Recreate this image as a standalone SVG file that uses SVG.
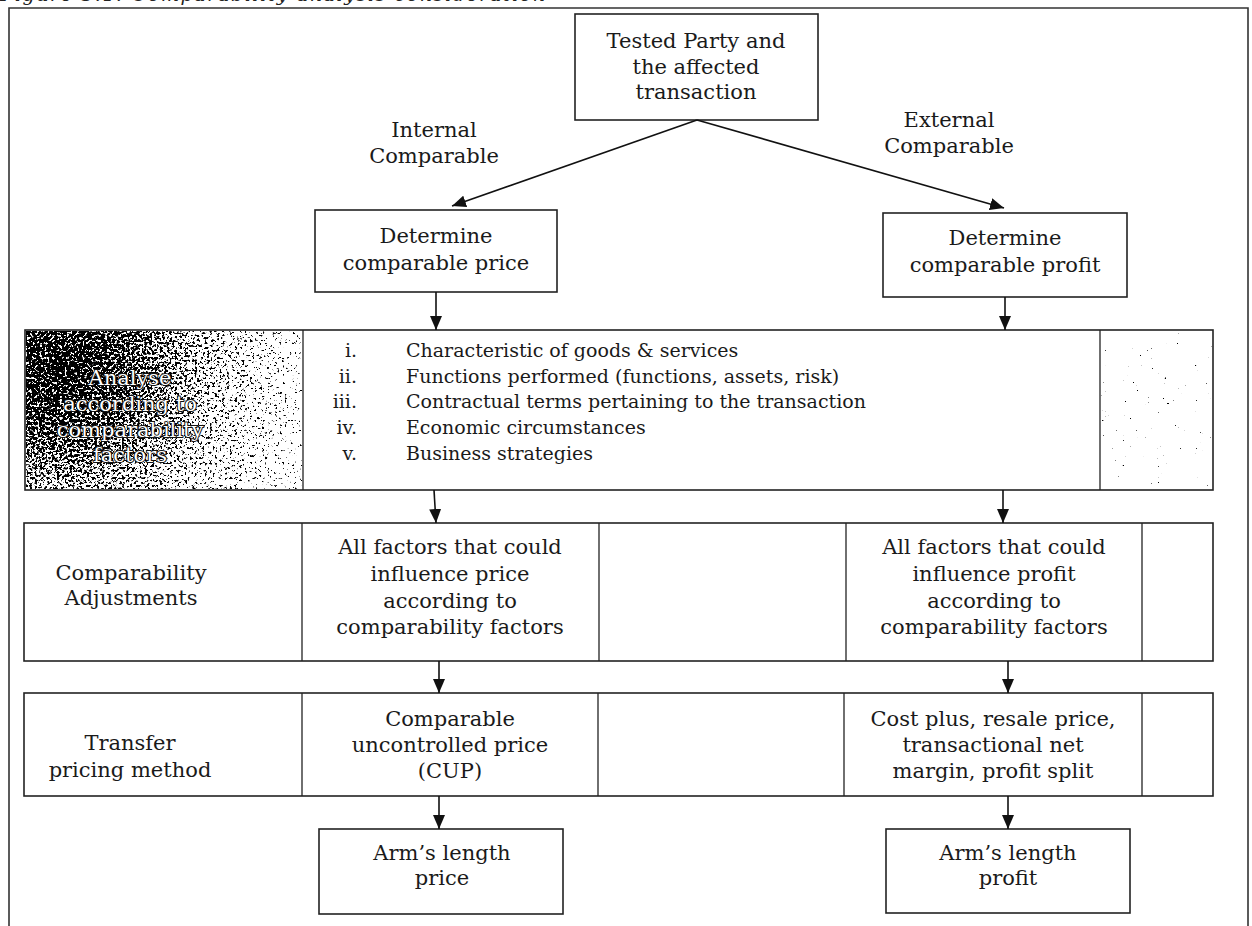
<svg xmlns="http://www.w3.org/2000/svg" width="1252" height="926" viewBox="0 0 1252 926">
  <style>
    .frame { fill: none; stroke: #333; stroke-width: 1.6; }
    .box { fill: #fff; stroke: #222; stroke-width: 1.6; }
    .div { stroke: #222; stroke-width: 1.3; }
    .t { font-family: "DejaVu Serif", "Liberation Serif", serif; font-size: 21px; fill: #1a1a1a; text-anchor: middle; }
    .lst { font-family: "DejaVu Serif", "Liberation Serif", serif; font-size: 19px; fill: #1a1a1a; }
    .num { text-anchor: end; }
    .outline { fill: #fff; stroke: #111; stroke-width: 2; paint-order: stroke; stroke-linejoin: round; }
    .cap { font-family: "DejaVu Serif", "Liberation Serif", serif; font-style: italic; font-size: 19px; fill: #222; }
    .conn line { stroke: #111; stroke-width: 1.6; marker-end: url(#ah); }
  </style>
  <defs>
    <marker id="ah" viewBox="0 0 14 12" refX="14" refY="6" markerWidth="14" markerHeight="12" markerUnits="userSpaceOnUse" orient="auto">
      <path d="M0,0 L14,6 L0,12 z" fill="#111"/>
    </marker>
    <!-- density map for the speckled halftone fill -->
    <radialGradient id="dense" gradientUnits="userSpaceOnUse" cx="60" cy="365" r="260">
      <stop offset="0" stop-color="#000" stop-opacity="0.68"/>
      <stop offset="0.25" stop-color="#000" stop-opacity="0.6"/>
      <stop offset="0.55" stop-color="#000" stop-opacity="0.44"/>
      <stop offset="1" stop-color="#000" stop-opacity="0.3"/>
    </radialGradient>
    <filter id="grain" filterUnits="userSpaceOnUse" x="0" y="300" width="1252" height="220" color-interpolation-filters="sRGB">
      <feTurbulence type="fractalNoise" baseFrequency="0.4" numOctaves="4" seed="11" result="noise"/>
      <feColorMatrix in="noise" type="matrix" values="0 0 0 0 0  0 0 0 0 0  0 0 0 0 0  1 0 0 0 0" result="na"/>
      <feComposite in="SourceGraphic" in2="na" operator="arithmetic" k1="0" k2="1" k3="1" k4="-1" result="sum"/>
      <feComponentTransfer in="sum" result="sharp">
        <feFuncA type="linear" slope="14" intercept="0"/>
      </feComponentTransfer>
      <feColorMatrix in="sharp" type="matrix" values="0 0 0 0 0  0 0 0 0 0  0 0 0 0 0  0 0 0 1 0"/>
    </filter>
  </defs>

  <!-- caption, cut at the top edge -->
  <text class="cap" x="0" y="1" textLength="545" lengthAdjust="spacing">Figure 3.1: Comparability analysis consideration</text>

  <!-- page frame -->
  <path class="frame" d="M9,926 V8 H1248 V926"/>

  <g id="node-tested-party">
    <rect class="box" x="575" y="14" width="243" height="106"/>
    <text class="t" x="696" y="48">Tested Party and</text>
    <text class="t" x="696" y="74">the affected</text>
    <text class="t" x="696" y="99">transaction</text>
  </g>

  <g id="label-internal">
    <text class="t" x="434" y="137">Internal</text>
    <text class="t" x="434" y="163">Comparable</text>
  </g>
  <g id="label-external">
    <text class="t" x="949" y="127">External</text>
    <text class="t" x="949" y="153">Comparable</text>
  </g>

  <g id="node-determine-price">
    <rect class="box" x="315" y="210" width="242" height="82"/>
    <text class="t" x="436" y="243">Determine</text>
    <text class="t" x="436" y="270">comparable price</text>
  </g>
  <g id="node-determine-profit">
    <rect class="box" x="883" y="213" width="244" height="84"/>
    <text class="t" x="1005" y="245">Determine</text>
    <text class="t" x="1005" y="272">comparable profit</text>
  </g>

  <!-- comparability factors band -->
  <g id="node-factors">
    <rect class="box" x="25" y="330" width="1188" height="160"/>
    <rect x="26" y="331" width="276" height="158" fill="url(#dense)" filter="url(#grain)"/>
    <rect x="1101" y="331" width="111" height="158" fill="#000" fill-opacity="0.2" filter="url(#grain)"/>
    <line class="div" x1="303" y1="330" x2="303" y2="490"/>
    <line class="div" x1="1100" y1="330" x2="1100" y2="490"/>
    <g class="t outline">
      <text x="130" y="385">Analyse</text>
      <text x="130" y="411">according to</text>
      <text x="130" y="437">comparability</text>
      <text x="130" y="462">factors</text>
    </g>
    <g class="lst">
      <text class="num" x="357" y="357">i.</text>
      <text class="num" x="357" y="383">ii.</text>
      <text class="num" x="357" y="408">iii.</text>
      <text class="num" x="357" y="434">iv.</text>
      <text class="num" x="357" y="460">v.</text>
      <text x="406" y="357">Characteristic of goods &amp; services</text>
      <text x="406" y="383">Functions performed (functions, assets, risk)</text>
      <text x="406" y="408">Contractual terms pertaining to the transaction</text>
      <text x="406" y="434">Economic circumstances</text>
      <text x="406" y="460">Business strategies</text>
    </g>
  </g>

  <!-- comparability adjustments row -->
  <g id="node-adjustments">
    <rect class="box" x="24" y="523" width="1189" height="138"/>
    <line class="div" x1="302" y1="523" x2="302" y2="661" stroke-width="1"/>
    <line class="div" x1="599" y1="523" x2="599" y2="661"/>
    <line class="div" x1="846" y1="523" x2="846" y2="661"/>
    <line class="div" x1="1142" y1="523" x2="1142" y2="661"/>
    <text class="t" x="131" y="580">Comparability</text>
    <text class="t" x="131" y="605">Adjustments</text>
    <text class="t" x="450" y="554">All factors that could</text>
    <text class="t" x="450" y="581">influence price</text>
    <text class="t" x="450" y="608">according to</text>
    <text class="t" x="450" y="634">comparability factors</text>
    <text class="t" x="994" y="554">All factors that could</text>
    <text class="t" x="994" y="581">influence profit</text>
    <text class="t" x="994" y="608">according to</text>
    <text class="t" x="994" y="634">comparability factors</text>
  </g>

  <!-- transfer pricing method row -->
  <g id="node-method">
    <rect class="box" x="24" y="693" width="1189" height="103"/>
    <line class="div" x1="302" y1="693" x2="302" y2="796"/>
    <line class="div" x1="598" y1="693" x2="598" y2="796"/>
    <line class="div" x1="844" y1="693" x2="844" y2="796"/>
    <line class="div" x1="1142" y1="693" x2="1142" y2="796"/>
    <text class="t" x="130" y="750">Transfer</text>
    <text class="t" x="130" y="777">pricing method</text>
    <text class="t" x="450" y="726">Comparable</text>
    <text class="t" x="450" y="752">uncontrolled price</text>
    <text class="t" x="450" y="778">(CUP)</text>
    <text class="t" x="993" y="726">Cost plus, resale price,</text>
    <text class="t" x="993" y="752">transactional net</text>
    <text class="t" x="993" y="778">margin, profit split</text>
  </g>

  <g id="node-alp-price">
    <rect class="box" x="319" y="829" width="244" height="85"/>
    <text class="t" x="442" y="860">Arm’s length</text>
    <text class="t" x="442" y="885">price</text>
  </g>
  <g id="node-alp-profit">
    <rect class="box" x="886" y="829" width="244" height="84"/>
    <text class="t" x="1008" y="860">Arm’s length</text>
    <text class="t" x="1008" y="885">profit</text>
  </g>

  <g id="connectors" class="conn">
    <line x1="697" y1="120" x2="452" y2="206"/>
    <line x1="697" y1="120" x2="1004" y2="208"/>
    <line x1="436" y1="292" x2="436" y2="330"/>
    <line x1="1005" y1="297" x2="1005" y2="330"/>
    <line x1="434" y1="490" x2="436" y2="523"/>
    <line x1="1003" y1="490" x2="1003" y2="523"/>
    <line x1="439" y1="661" x2="439" y2="693"/>
    <line x1="1008" y1="661" x2="1008" y2="693"/>
    <line x1="439" y1="796" x2="439" y2="829"/>
    <line x1="1008" y1="796" x2="1008" y2="829"/>
  </g>
</svg>
